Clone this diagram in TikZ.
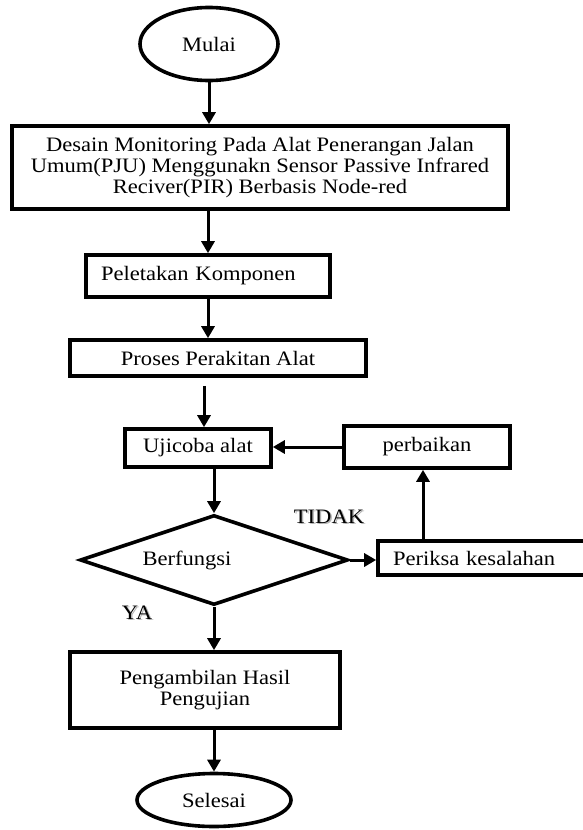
\documentclass[tikz,border=0pt]{standalone}
\usepackage{fontspec}
\setmainfont{Liberation Serif}[FakeStretch=1.1]
\usetikzlibrary{shapes.geometric,arrows.meta}
\newcommand{\shadowtext}[1]{\makebox[0pt][l]{\raisebox{-1.5pt}{\hspace{1.5pt}\textcolor{black!30}{#1}}}#1}
\begin{document}
\begin{tikzpicture}[x=1pt,y=-1pt,
  every node/.style={font=\fontsize{20.5pt}{21.3pt}\selectfont},
  box/.style={draw, line width=3.6pt, rectangle, inner sep=0pt, align=center},
  terminal/.style={draw, line width=3.6pt, ellipse, inner sep=0pt},
  decision/.style={draw, line width=3.6pt, diamond, aspect=3, inner sep=0pt},
  flow/.style={line width=3pt, -{Triangle[length=12pt,width=13pt]}},
  lbl/.style={font=\fontsize{20.5pt}{22pt}\selectfont}]
\useasboundingbox (0,0) rectangle (582,830);

\node[terminal, minimum width=138pt, minimum height=73pt] (mulai) at (209,44) {Mulai};
\node[box, minimum width=496pt, minimum height=83pt] (desain) at (260,167.5)
  {Desain Monitoring Pada Alat Penerangan Jalan\\Umum(PJU) Menggunakn Sensor Passive Infrared\\Reciver(PIR) Berbasis Node-red};
\node[box, text width=214pt, inner xsep=15pt, align=left, minimum height=42pt] (peletakan) at (208,276) {Peletakan Komponen};
\node[box, minimum width=296pt, minimum height=36pt] (proses) at (218,358) {Proses Perakitan Alat};
\node[box, minimum width=146pt, minimum height=38pt] (uji) at (198,448) {Ujicoba alat};
\node[box, minimum width=166pt, minimum height=42pt] (perbaikan) at (427,447) {perbaikan};
\node[decision, minimum width=268pt, minimum height=90pt,
  label={[xshift=-27pt]center:Berfungsi}] (dec) at (214,560) {};
\node[box, text width=180pt, inner xsep=15pt, align=left, minimum height=34pt] (periksa) at (483,558) {Periksa kesalahan};
\node[box, minimum width=270pt, minimum height=76pt] (hasil) at (205,690) {Pengambilan Hasil\\Pengujian};
\node[terminal, minimum width=154pt, minimum height=53pt] (selesai) at (214,800) {Selesai};

\node[lbl] (tidak) at (329,517) {\shadowtext{TIDAK}};
\node[lbl] (ya) at (137,613) {\shadowtext{YA}};

\draw[flow] (mulai.south) -- (mulai.south |- desain.north);
\draw[flow] (peletakan.north |- desain.south) -- (peletakan.north);
\draw[flow] (peletakan.south) -- (peletakan.south |- proses.north);
\draw[flow, shorten <=8pt] ([xshift=6pt]uji.north |- proses.south) -- ([xshift=6pt]uji.north);
\draw[flow] (perbaikan.west) -- (perbaikan.west -| uji.east);
\draw[flow] (dec.north |- uji.south) -- (dec.north);
\draw[flow] (dec.east) -- (dec.east -| periksa.west);
\draw[flow] ([xshift=-4pt]perbaikan.south |- periksa.north) -- ([xshift=-4pt]perbaikan.south);
\draw[flow] (dec.south) -- (dec.south |- hasil.north);
\draw[flow] (selesai.north |- hasil.south) -- (selesai.north);
\end{tikzpicture}
\end{document}
